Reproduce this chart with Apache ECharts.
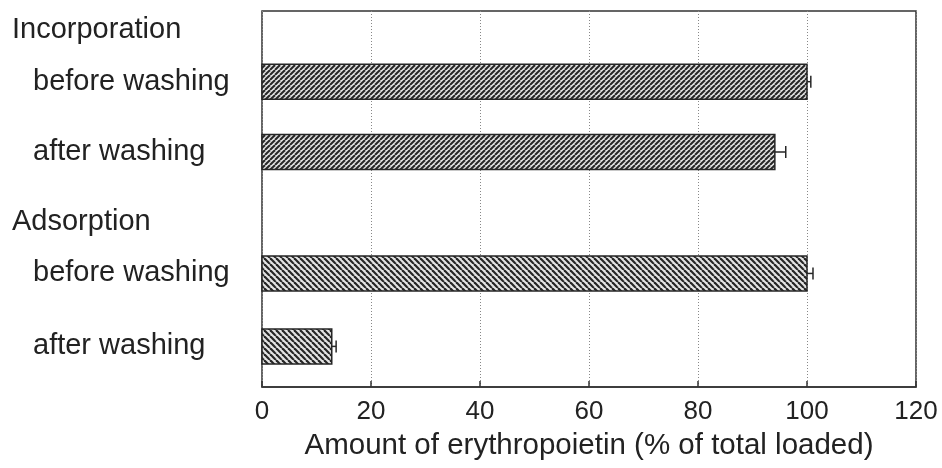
<!DOCTYPE html>
<html lang="en">
<head>
    <meta charset="UTF-8">
    <title>Erythropoietin loading</title>
    <script src="https://cdn.jsdelivr.net/npm/echarts@6.0.0/dist/echarts.min.js"></script>
    <style>
        html, body { margin: 0; padding: 0; background: #fff; }
        #chart { width: 942px; height: 468px; }
    </style>
</head>
<body>
    <div id="chart"></div>
    <script>
        // rows, top to bottom (headers have no bar)
        const rowLabels = ['Incorporation', 'before washing', 'after washing', 'Adsorption', 'before washing', 'after washing'];
        const rowIsHeader = [true, false, false, true, false, false];
        const rowPos = [5.1, 18.8, 37.5, 56.1, 69.8, 89.2];
        const barValues = [null, 100, 94.1, null, 100, 12.8];
        const barErrors = [null, 0.7, 2.0, null, 1.1, 0.8];
        const barHatch = [null, 'up', 'up', null, 'down', 'down'];
        const xTicks = [0, 20, 40, 60, 80, 100, 120];

        const FONT = '"Liberation Sans", Arial, sans-serif';

        // diagonal hatch tiles
        function makeHatch(dir, size, lw) {
            const c = document.createElement('canvas');
            c.width = size; c.height = size;
            const g = c.getContext('2d');
            g.fillStyle = '#e4e4e4';
            g.fillRect(0, 0, size, size);
            g.strokeStyle = '#262626';
            g.lineWidth = lw;
            for (let k = -1; k <= 1; k++) {
                g.beginPath();
                if (dir === 'up') {
                    g.moveTo(k * size, size);
                    g.lineTo(k * size + size, 0);
                } else {
                    g.moveTo(k * size, 0);
                    g.lineTo(k * size + size, size);
                }
                g.stroke();
            }
            return { image: c, repeat: 'repeat' };
        }
        const hatches = { up: makeHatch('up', 5, 2), down: makeHatch('down', 6, 2.2) };

        const rows = rowLabels.map((name, i) => [barValues[i] == null ? 0 : barValues[i], rowPos[i], i]);

        const chart = echarts.init(document.getElementById('chart'));
        chart.setOption({
            animation: false,
            grid: { left: 262, right: 26, top: 11, bottom: 81, show: true, borderColor: '#333', borderWidth: 1.5 },
            xAxis: {
                type: 'value', min: 0, max: 120, interval: 20,
                axisLine: { show: true, onZero: false, lineStyle: { color: '#333', width: 1.5 } },
                axisTick: { show: true, inside: true, length: 6, lineStyle: { color: '#333', width: 1.5 } },
                axisLabel: {
                    fontSize: 26, color: '#222', fontFamily: FONT, margin: 12,
                    formatter: v => xTicks.includes(v) ? String(v) : ''
                },
                splitLine: { show: true, lineStyle: { color: '#888', type: [1, 2], width: 1 } },
                name: 'Amount of erythropoietin (% of total loaded)',
                nameLocation: 'middle', nameGap: 44,
                nameTextStyle: { fontSize: 29.5, color: '#222', fontFamily: FONT }
            },
            yAxis: {
                type: 'value', min: 0, max: 100, inverse: true,
                axisLine: { show: false }, axisTick: { show: false },
                axisLabel: { show: false }, splitLine: { show: false }
            },
            series: [{
                type: 'custom',
                clip: false,
                data: rows,
                renderItem: function (params, api) {
                    const i = api.value(2);
                    const yc = api.coord([0, api.value(1)])[1];
                    const x0 = api.coord([0, 0])[0];
                    const children = [];
                    // row label to the left of the plot
                    children.push({
                        type: 'text',
                        style: {
                            x: rowIsHeader[i] ? x0 - 250 : x0 - 229,
                            y: yc,
                            text: rowLabels[i],
                            fill: '#222',
                            font: '29px ' + FONT,
                            verticalAlign: 'middle',
                            align: 'left'
                        }
                    });
                    if (barValues[i] != null) {
                        const h = api.size([0, 9.3])[1];
                        const x1 = api.coord([barValues[i], 0])[0];
                        const xe = api.coord([barValues[i] + barErrors[i], 0])[0];
                        children.push({
                            type: 'rect',
                            shape: { x: x0, y: yc - h / 2, width: x1 - x0, height: h },
                            style: { fill: hatches[barHatch[i]], stroke: '#262626', lineWidth: 1.5 }
                        });
                        children.push({
                            type: 'line',
                            shape: { x1: x1, y1: yc, x2: xe, y2: yc },
                            style: { stroke: '#262626', lineWidth: 1.5 }
                        });
                        children.push({
                            type: 'line',
                            shape: { x1: xe, y1: yc - 6, x2: xe, y2: yc + 6 },
                            style: { stroke: '#262626', lineWidth: 1.5 }
                        });
                    }
                    return { type: 'group', children: children };
                }
            }]
        });
    </script>
</body>
</html>
